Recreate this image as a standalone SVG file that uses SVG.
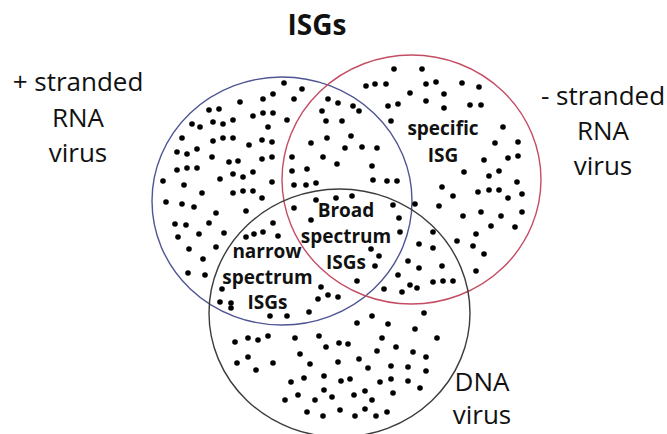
<svg xmlns="http://www.w3.org/2000/svg" width="667" height="434" viewBox="0 0 667 434">
<style>
.c{fill:none;stroke-width:1.4}
.lbl{font-family:"Open Sans","Liberation Sans",sans-serif;font-size:26px;fill:#111;text-anchor:middle}
.in{font-family:"Open Sans","Liberation Sans",sans-serif;font-size:19px;font-weight:bold;fill:#111;text-anchor:middle}
.t{font-family:"Open Sans","Liberation Sans",sans-serif;font-size:28px;font-weight:bold;fill:#111;text-anchor:middle}
#dots circle{fill:#000}
</style>
<rect width="667" height="434" fill="#fff"/>
<g id="sets">
<g id="plus-rna"><ellipse class="c" cx="282" cy="201" rx="130" ry="124" stroke="#4f5592"/></g>
<g id="minus-rna"><ellipse class="c" cx="411.5" cy="179.5" rx="129.5" ry="124.5" stroke="#c44d64"/></g>
<g id="dna"><ellipse class="c" cx="339.5" cy="313" rx="130.5" ry="124" stroke="#3c3c3c"/></g>
</g>
<g id="dots">
<circle cx="284" cy="83" r="2.8"/><circle cx="302" cy="89" r="2.8"/><circle cx="240" cy="102" r="2.8"/><circle cx="263" cy="99" r="2.8"/><circle cx="273" cy="94" r="2.8"/><circle cx="294" cy="99" r="2.8"/><circle cx="209" cy="110" r="2.8"/><circle cx="219" cy="109" r="2.8"/><circle cx="192" cy="124" r="2.8"/><circle cx="200" cy="127" r="2.8"/><circle cx="213" cy="122" r="2.8"/><circle cx="223" cy="124" r="2.8"/><circle cx="233" cy="120" r="2.8"/><circle cx="253" cy="116" r="2.8"/><circle cx="263" cy="113" r="2.8"/><circle cx="273" cy="113" r="2.8"/><circle cx="268" cy="127" r="2.8"/><circle cx="287" cy="120" r="2.8"/><circle cx="182" cy="138" r="2.8"/><circle cx="213" cy="141" r="2.8"/><circle cx="223" cy="138" r="2.8"/><circle cx="233" cy="138" r="2.8"/><circle cx="249" cy="145" r="2.8"/><circle cx="262" cy="140" r="2.8"/><circle cx="272" cy="142" r="2.8"/><circle cx="311" cy="143" r="2.8"/><circle cx="177" cy="152" r="2.8"/><circle cx="187" cy="154" r="2.8"/><circle cx="197" cy="149" r="2.8"/><circle cx="212" cy="157" r="2.8"/><circle cx="229" cy="162" r="2.8"/><circle cx="238" cy="161" r="2.8"/><circle cx="262" cy="159" r="2.8"/><circle cx="272" cy="157" r="2.8"/><circle cx="292" cy="157" r="2.8"/><circle cx="177" cy="170" r="2.8"/><circle cx="187" cy="168" r="2.8"/><circle cx="197" cy="168" r="2.8"/><circle cx="220" cy="179" r="2.8"/><circle cx="233" cy="174" r="2.8"/><circle cx="243" cy="177" r="2.8"/><circle cx="253" cy="172" r="2.8"/><circle cx="272" cy="182" r="2.8"/><circle cx="292" cy="171" r="2.8"/><circle cx="307" cy="169" r="2.8"/><circle cx="163" cy="181" r="2.8"/><circle cx="184" cy="185" r="2.8"/><circle cx="202" cy="193" r="2.8"/><circle cx="233" cy="193" r="2.8"/><circle cx="243" cy="191" r="2.8"/><circle cx="253" cy="191" r="2.8"/><circle cx="262" cy="198" r="2.8"/><circle cx="294" cy="185" r="2.8"/><circle cx="306" cy="185" r="2.8"/><circle cx="316" cy="183" r="2.8"/>
<circle cx="394" cy="69" r="2.8"/><circle cx="422" cy="69" r="2.8"/><circle cx="366" cy="86" r="2.8"/><circle cx="375" cy="84" r="2.8"/><circle cx="386" cy="84" r="2.8"/><circle cx="426" cy="84" r="2.8"/><circle cx="436" cy="82" r="2.8"/><circle cx="462" cy="83" r="2.8"/><circle cx="328" cy="99" r="2.8"/><circle cx="338" cy="103" r="2.8"/><circle cx="353" cy="106" r="2.8"/><circle cx="359" cy="111" r="2.8"/><circle cx="410" cy="93" r="2.8"/><circle cx="426" cy="101" r="2.8"/><circle cx="444" cy="94" r="2.8"/><circle cx="444" cy="108" r="2.8"/><circle cx="388" cy="106" r="2.8"/><circle cx="398" cy="104" r="2.8"/><circle cx="470" cy="105" r="2.8"/><circle cx="322" cy="111" r="2.8"/><circle cx="326" cy="121" r="2.8"/><circle cx="342" cy="121" r="2.8"/><circle cx="391" cy="121" r="2.8"/><circle cx="327" cy="138" r="2.8"/><circle cx="351" cy="136" r="2.8"/><circle cx="345" cy="148" r="2.8"/><circle cx="362" cy="147" r="2.8"/><circle cx="377" cy="148" r="2.8"/><circle cx="323" cy="157" r="2.8"/><circle cx="337" cy="164" r="2.8"/><circle cx="372" cy="166" r="2.8"/><circle cx="373" cy="180" r="2.8"/><circle cx="387" cy="181" r="2.8"/><circle cx="397" cy="181" r="2.8"/><circle cx="464" cy="172" r="2.8"/><circle cx="442" cy="187" r="2.8"/>
<circle cx="479" cy="87" r="2.8"/><circle cx="481" cy="105" r="2.8"/><circle cx="503" cy="127" r="2.8"/><circle cx="495" cy="143" r="2.8"/><circle cx="518" cy="142" r="2.8"/><circle cx="484" cy="160" r="2.8"/><circle cx="508" cy="158" r="2.8"/><circle cx="518" cy="156" r="2.8"/><circle cx="489" cy="176" r="2.8"/><circle cx="499" cy="171" r="2.8"/><circle cx="489" cy="190" r="2.8"/><circle cx="499" cy="190" r="2.8"/><circle cx="517" cy="182" r="2.8"/><circle cx="508" cy="198" r="2.8"/><circle cx="522" cy="194" r="2.8"/><circle cx="481" cy="212" r="2.8"/><circle cx="501" cy="216" r="2.8"/><circle cx="522" cy="212" r="2.8"/><circle cx="491" cy="226" r="2.8"/><circle cx="515" cy="227" r="2.8"/><circle cx="484" cy="254" r="2.8"/>
<circle cx="453" cy="196" r="2.8"/><circle cx="478" cy="192" r="2.8"/><circle cx="415" cy="204" r="2.8"/><circle cx="439" cy="206" r="2.8"/><circle cx="463" cy="216" r="2.8"/><circle cx="433" cy="232" r="2.8"/><circle cx="476" cy="234" r="2.8"/><circle cx="457" cy="241" r="2.8"/><circle cx="473" cy="246" r="2.8"/><circle cx="419" cy="244" r="2.8"/><circle cx="433" cy="248" r="2.8"/><circle cx="408" cy="261" r="2.8"/><circle cx="419" cy="268" r="2.8"/><circle cx="442" cy="266" r="2.8"/><circle cx="476" cy="271" r="2.8"/><circle cx="398" cy="275" r="2.8"/><circle cx="433" cy="282" r="2.8"/><circle cx="443" cy="281" r="2.8"/><circle cx="453" cy="281" r="2.8"/><circle cx="410" cy="285" r="2.8"/><circle cx="417" cy="288" r="2.8"/><circle cx="384" cy="289" r="2.8"/><circle cx="402" cy="292" r="2.8"/><circle cx="357" cy="281" r="2.8"/><circle cx="321" cy="287" r="2.8"/><circle cx="328" cy="295" r="2.8"/><circle cx="338" cy="297" r="2.8"/><circle cx="318" cy="299" r="2.8"/><circle cx="371" cy="249" r="2.8"/><circle cx="379" cy="256" r="2.8"/><circle cx="375" cy="266" r="2.8"/><circle cx="311" cy="220" r="2.8"/><circle cx="400" cy="232" r="2.8"/><circle cx="399" cy="218" r="2.8"/><circle cx="393" cy="205" r="2.8"/><circle cx="336" cy="198" r="2.8"/><circle cx="352" cy="196" r="2.8"/>
<circle cx="166" cy="202" r="2.8"/><circle cx="182" cy="204" r="2.8"/><circle cx="194" cy="207" r="2.8"/><circle cx="216" cy="213" r="2.8"/><circle cx="246" cy="211" r="2.8"/><circle cx="175" cy="224" r="2.8"/><circle cx="186" cy="225" r="2.8"/><circle cx="209" cy="223" r="2.8"/><circle cx="178" cy="237" r="2.8"/><circle cx="199" cy="234" r="2.8"/><circle cx="224" cy="233" r="2.8"/><circle cx="216" cy="247" r="2.8"/><circle cx="189" cy="249" r="2.8"/><circle cx="203" cy="259" r="2.8"/><circle cx="188" cy="273" r="2.8"/><circle cx="205" cy="275" r="2.8"/><circle cx="273" cy="223" r="2.8"/><circle cx="294" cy="208" r="2.8"/><circle cx="316" cy="200" r="2.8"/><circle cx="246" cy="237" r="2.8"/><circle cx="254" cy="234" r="2.8"/><circle cx="263" cy="232" r="2.8"/><circle cx="278" cy="236" r="2.8"/><circle cx="222" cy="289" r="2.8"/><circle cx="220" cy="302" r="2.8"/><circle cx="231" cy="303" r="2.8"/><circle cx="231" cy="308" r="2.8"/><circle cx="270" cy="316" r="2.8"/><circle cx="287" cy="316" r="2.8"/><circle cx="309" cy="312" r="2.8"/>
<circle cx="357" cy="323" r="2.8"/><circle cx="372" cy="316" r="2.8"/><circle cx="235" cy="342" r="2.8"/><circle cx="248" cy="338" r="2.8"/><circle cx="258" cy="340" r="2.8"/><circle cx="268" cy="336" r="2.8"/><circle cx="295" cy="338" r="2.8"/><circle cx="319" cy="336" r="2.8"/><circle cx="326" cy="347" r="2.8"/><circle cx="339" cy="343" r="2.8"/><circle cx="348" cy="344" r="2.8"/><circle cx="377" cy="351" r="2.8"/><circle cx="300" cy="354" r="2.8"/><circle cx="237" cy="363" r="2.8"/><circle cx="248" cy="357" r="2.8"/><circle cx="273" cy="363" r="2.8"/><circle cx="256" cy="370" r="2.8"/><circle cx="310" cy="364" r="2.8"/><circle cx="338" cy="362" r="2.8"/><circle cx="359" cy="359" r="2.8"/><circle cx="368" cy="368" r="2.8"/><circle cx="291" cy="382" r="2.8"/><circle cx="304" cy="378" r="2.8"/><circle cx="324" cy="376" r="2.8"/><circle cx="341" cy="381" r="2.8"/><circle cx="350" cy="379" r="2.8"/><circle cx="380" cy="382" r="2.8"/><circle cx="324" cy="390" r="2.8"/><circle cx="285" cy="400" r="2.8"/><circle cx="298" cy="395" r="2.8"/><circle cx="315" cy="400" r="2.8"/><circle cx="332" cy="397" r="2.8"/><circle cx="354" cy="395" r="2.8"/><circle cx="365" cy="391" r="2.8"/><circle cx="372" cy="400" r="2.8"/><circle cx="307" cy="412" r="2.8"/><circle cx="323" cy="416" r="2.8"/><circle cx="340" cy="410" r="2.8"/><circle cx="355" cy="416" r="2.8"/><circle cx="365" cy="409" r="2.8"/><circle cx="376" cy="416" r="2.8"/>
<circle cx="424" cy="313" r="2.8"/><circle cx="388" cy="324" r="2.8"/><circle cx="415" cy="329" r="2.8"/><circle cx="382" cy="338" r="2.8"/><circle cx="437" cy="338" r="2.8"/><circle cx="396" cy="347" r="2.8"/><circle cx="413" cy="352" r="2.8"/><circle cx="426" cy="357" r="2.8"/><circle cx="391" cy="366" r="2.8"/><circle cx="408" cy="367" r="2.8"/><circle cx="426" cy="371" r="2.8"/><circle cx="391" cy="379" r="2.8"/><circle cx="408" cy="381" r="2.8"/><circle cx="420" cy="388" r="2.8"/><circle cx="393" cy="393" r="2.8"/><circle cx="387" cy="412" r="2.8"/>
</g>
<g id="labels">
<text class="t" x="317" y="35">ISGs</text>
<text class="lbl" x="78" y="91">+ stranded</text>
<text class="lbl" x="78" y="126.5">RNA</text>
<text class="lbl" x="78" y="162">virus</text>
<text class="lbl" x="603" y="105">- stranded</text>
<text class="lbl" x="603" y="140">RNA</text>
<text class="lbl" x="603" y="175">virus</text>
<text class="lbl" x="482" y="391">DNA</text>
<text class="lbl" x="482" y="424">virus</text>
<text class="in" x="443" y="135">specific</text>
<text class="in" x="443" y="162">ISG</text>
<text class="in" x="346" y="217">Broad</text>
<text class="in" x="346" y="243">spectrum</text>
<text class="in" x="346" y="269">ISGs</text>
<text class="in" x="267" y="258">narrow</text>
<text class="in" x="267.5" y="284">spectrum</text>
<text class="in" x="267.5" y="309">ISGs</text>
</g>
</svg>
